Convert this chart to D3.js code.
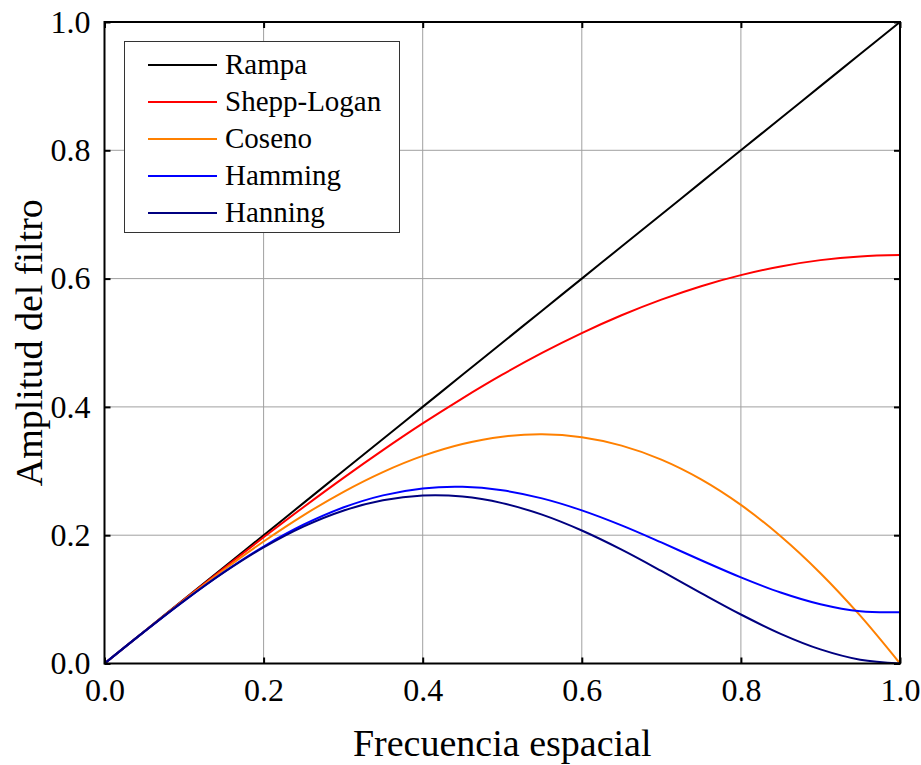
<!DOCTYPE html>
<html><head><meta charset="utf-8">
<script src="https://cdn.jsdelivr.net/npm/d3@7"></script>
<style>body{margin:0;background:#fff}svg{display:block}</style>
</head><body>
<script>
const freq = [0,0.05,0.1,0.15,0.2,0.25,0.3,0.35,0.4,0.45,0.5,0.55,0.6,0.65,0.7,0.75,0.8,0.85,0.9,0.95,1.0];
const rampa = [0,0.05,0.1,0.15,0.2,0.25,0.3,0.35,0.4,0.45,0.5,0.55,0.6,0.65,0.7,0.75,0.8,0.85,0.9,0.95,1.0];
const sheppLogan = [0,0.0500,0.0996,0.1486,0.1967,0.2436,0.2890,0.3326,0.3742,0.4134,0.4502,0.4841,0.5150,0.5428,0.5672,0.5882,0.6054,0.6190,0.6288,0.6346,0.6366];
const coseno = [0,0.0498,0.0988,0.1459,0.1902,0.2310,0.2673,0.2984,0.3236,0.3422,0.3536,0.3572,0.3527,0.3396,0.3178,0.2870,0.2472,0.1984,0.1408,0.0745,0];
const hamming = [0,0.0497,0.0977,0.1425,0.1824,0.2163,0.2431,0.2621,0.2729,0.2754,0.2700,0.2574,0.2387,0.2153,0.1887,0.1610,0.1343,0.1106,0.0923,0.0814,0.0800];
const hanning = [0,0.0497,0.0976,0.1418,0.1809,0.2134,0.2382,0.2544,0.2618,0.2602,0.2500,0.2320,0.2073,0.1775,0.1443,0.1098,0.0764,0.0463,0.0220,0.0059,0];
const seriesNames = ["Rampa","Shepp-Logan","Coseno","Hamming","Hanning"];
const seriesColors = ["#000000","#ff0000","#ff8000","#0000ff","#000080"];
const xTicks = [0,0.2,0.4,0.6,0.8,1.0];
const yTicks = [0,0.2,0.4,0.6,0.8,1.0];
const xTitle = "Frecuencia espacial";
const yTitle = "Amplitud del filtro";

const W = 921, H = 765;
const L = 104.5, R = 900, T = 22, B = 663.5;
const font = "Liberation Serif, Times New Roman, serif";
const svg = d3.select("body").append("svg").attr("width", W).attr("height", H)
  .style("font-family", font);
const x = d3.scaleLinear().domain([0,1]).range([L,R]);
const y = d3.scaleLinear().domain([0,1]).range([B,T]);

// grid
const g = svg.append("g");
g.selectAll(".gx").data(xTicks.slice(1,-1)).join("line")
  .attr("x1", d=>x(d)).attr("x2", d=>x(d)).attr("y1", T).attr("y2", B)
  .attr("stroke", "#a0a0a0").attr("stroke-width", 1);
g.selectAll(".gy").data(yTicks.slice(1,-1)).join("line")
  .attr("y1", d=>y(d)).attr("y2", d=>y(d)).attr("x1", L).attr("x2", R)
  .attr("stroke", "#a0a0a0").attr("stroke-width", 1);

// series
const allSeries = [rampa, sheppLogan, coseno, hamming, hanning];
const line = d3.line().x((d,i)=>x(freq[i])).y(d=>y(d)).curve(d3.curveCatmullRom.alpha(0.5));
allSeries.forEach((s,k)=>{
  svg.append("path").datum(s).attr("d", line)
    .attr("fill","none").attr("stroke", seriesColors[k]).attr("stroke-width", 2)
    .attr("stroke-linejoin","round");
});

// axes (inward ticks)
const xAxisB = d3.axisBottom(x).tickValues(xTicks).tickSizeInner(-6).tickSizeOuter(0).tickPadding(15).tickFormat(d3.format(".1f"));
const xAxisT = d3.axisTop(x).tickValues(xTicks).tickSizeInner(-6).tickSizeOuter(0).tickFormat("");
const yAxisL = d3.axisLeft(y).tickValues(yTicks).tickSizeInner(-6).tickSizeOuter(0).tickPadding(14).tickFormat(d3.format(".1f"));
const yAxisR = d3.axisRight(y).tickValues(yTicks).tickSizeInner(-6).tickSizeOuter(0).tickFormat("");
function style(sel){
  sel.attr("font-family", null).attr("font-size", null);
  sel.select(".domain").remove();
  sel.selectAll(".tick line").attr("stroke","#000").attr("stroke-width",2);
  sel.selectAll("text").style("font-family", font).style("font-size", "32px").attr("fill","#000");
}
svg.append("g").attr("transform",`translate(0,${B})`).call(xAxisB).call(style);
svg.append("g").attr("transform",`translate(0,${T})`).call(xAxisT).call(style);
svg.append("g").attr("transform",`translate(${L},0)`).call(yAxisL).call(style);
svg.append("g").attr("transform",`translate(${R},0)`).call(yAxisR).call(style);

svg.append("rect").attr("x", L).attr("y", T).attr("width", R-L).attr("height", B-T)
  .attr("fill","none").attr("stroke","#000").attr("stroke-width",2);

// titles
svg.append("text").attr("x", (L+R)/2).attr("y", 756).attr("text-anchor","middle")
  .style("font-family", font).style("font-size", "38px").text(xTitle);
svg.append("text").attr("transform", `translate(42,${(T+B)/2}) rotate(-90)`).attr("text-anchor","middle")
  .style("font-family", font).style("font-size", "38px").text(yTitle);

// legend
const lg = svg.append("g");
lg.append("rect").attr("x",124.5).attr("y",41.5).attr("width",275).attr("height",191)
  .attr("fill","#fff").attr("stroke","#333").attr("stroke-width",1);
seriesNames.forEach((n,i)=>{
  const yy = 65 + i*37;
  lg.append("line").attr("x1",148).attr("x2",217).attr("y1",yy).attr("y2",yy)
    .attr("stroke", seriesColors[i]).attr("stroke-width",2);
  lg.append("text").attr("x",225).attr("y",yy+9).style("font-family",font).style("font-size","29px").text(n);
});
</script>
</body></html>
